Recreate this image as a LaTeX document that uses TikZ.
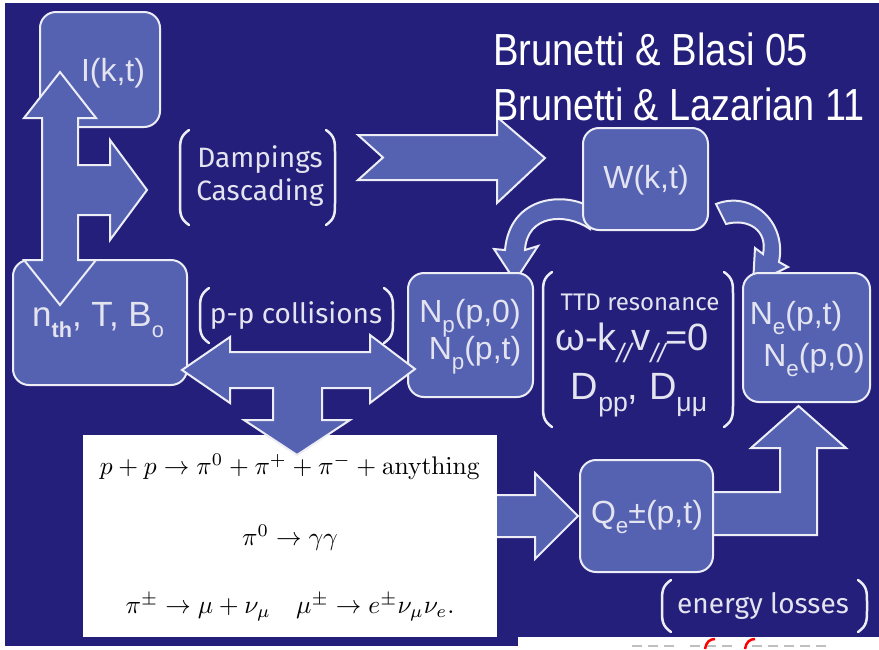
\documentclass[tikz,border=0pt]{standalone}
\usepackage[no-math]{fontspec}
\usepackage{graphicx}
\setmainfont{Liberation Sans}
\newfontfamily\comic{Fira Sans}
\definecolor{bg}{HTML}{241F7A}
\definecolor{boxc}{HTML}{5562B2}
\definecolor{edge}{HTML}{EDEDF5}
\definecolor{txt}{HTML}{E4E4F0}
\newcommand\dn[2][0.7]{\raisebox{-0.3em}{\scalebox{#1}{#2}}}
\newcommand\lpar[3]{\draw[paren] ({#1+9},{#2}) .. controls ({#1},{#2+6}) and ({#1},{#2+12}) .. ({#1},{#2+22}) -- ({#1},{#3-22}) .. controls ({#1},{#3-12}) and ({#1},{#3-6}) .. ({#1+9},{#3});}
\newcommand\rpar[3]{\draw[paren] ({#1-9},{#2}) .. controls ({#1},{#2+6}) and ({#1},{#2+12}) .. ({#1},{#2+22}) -- ({#1},{#3-22}) .. controls ({#1},{#3-12}) and ({#1},{#3-6}) .. ({#1-9},{#3});}
\tikzset{
  box/.style={draw=edge, line width=2pt, fill=boxc, rounded corners=16pt, inner sep=0pt},
  arr/.style={draw=edge, line width=2pt, fill=boxc, line join=miter},
  paren/.style={draw=edge, line width=2.5pt, line cap=round},
  lbl/.style={text=txt, inner sep=0pt, font=\fontsize{32}{36}\selectfont},
  cmc/.style={text=txt, inner sep=0pt, font=\comic\fontsize{28}{32}\selectfont},
}
\begin{document}
\begin{tikzpicture}[x=1pt,y=-1pt]
\useasboundingbox (0,0) rectangle (879,649);
\fill[white] (0,0) rectangle (879,649);
\fill[bg] (5,3) rectangle (879,646);

% curved arrows from W
\filldraw[arr] (590,207) .. controls (565,192) and (510,195) .. (505,250) -- (494,249) -- (515,281) -- (538,246) -- (525,250) .. controls (527,215) and (565,212) .. (590,229) -- cycle;
\filldraw[arr] (716,204) .. controls (752,190) and (787,222) .. (779,262) -- (788,267) -- (753,284) -- (755,248) -- (763,254) .. controls (768,230) and (748,218) .. (726,224) -- cycle;

% chevron arrow
\filldraw[arr] (358,135) -- (497,135) -- (497,117) -- (545,158) -- (497,203) -- (497,180) -- (358,180) -- (383,157.5) -- cycle;

% arrows to Q and from Q
\filldraw[arr] (490,495) -- (535,495) -- (535,473) -- (578,516) -- (535,559) -- (535,537) -- (490,537) -- cycle;
\filldraw[arr] (705,492) -- (780,492) -- (780,448) -- (751,448) -- (798.5,406) -- (846,448) -- (817,448) -- (817,535) -- (705,535) -- cycle;

% boxes
\node[box, minimum width=120pt, minimum height=115pt] (I) at (100,69.5) {};
\node[box, minimum width=174pt, minimum height=125pt] (n) at (100,322.5) {};
\node[box, minimum width=125pt, minimum height=124pt] (Np) at (470.5,335) {};
\node[box, minimum width=125pt, minimum height=102pt] (W) at (645.5,179) {};
\node[box, minimum width=127pt, minimum height=129pt] (Ne) at (806.5,337.5) {};
\node[box, minimum width=133pt, minimum height=112pt] (Q) at (646.5,516) {};
\node[fill=white, minimum width=414pt, minimum height=202pt, inner sep=0pt] (eq) at (290,536) {};

% vertical double arrow with branch
\filldraw[arr] (60,72) -- (96,118) -- (78,118) -- (78,165) -- (110,165) -- (110,140) -- (147,190) -- (110,240) -- (110,215) -- (78,215) -- (78,260) -- (96,260) -- (60,305) -- (24,260) -- (42,260) -- (42,118) -- (24,118) -- cycle;

% horizontal double arrow with down branch
\filldraw[arr] (182,370) -- (230,337) -- (230,352) -- (370,352) -- (370,335) -- (415,369) -- (370,403) -- (370,388) -- (322,388) -- (322,420) -- (350,420) -- (297,455) -- (244,420) -- (273,420) -- (273,388) -- (230,388) -- (230,403) -- cycle;

% brackets
\lpar{180}{130}{225} \rpar{335}{130}{225}
\lpar{200}{288}{343} \rpar{393}{288}{343}
\lpar{543}{272}{427} \rpar{733}{272}{427}
\lpar{662}{580}{632} \rpar{867}{580}{632}

% labels
\node[lbl] (tI) at (113,73) {I(k,t)};
\node[lbl] (tW) at (646,180) {W(k,t)};
\node[lbl, font=\fontsize{35}{40}\selectfont] (tn) at (98,320) {n\dn[0.62]{\bfseries th}, T, B\dn[0.62]{o}};
\node[lbl, font=\fontsize{32}{36}\selectfont] (tNp1) at (470,318) {N\dn{p}(p,0)};
\node[lbl, font=\fontsize{32}{36}\selectfont] (tNp2) at (475,355) {N\dn{p}(p,t)};
\node[lbl, font=\fontsize{32}{36}\selectfont] (tNe1) at (796,318) {N\dn{e}(p,t)};
\node[lbl, font=\fontsize{32}{36}\selectfont] (tNe2) at (814,360) {N\dn{e}(p,0)};
\node[lbl] (tQ) at (647,517) {Q\dn{e}±(p,t)};
\node[lbl, font=\fontsize{38}{42}\selectfont] (tw) at (632,343) {ω-k\dn{\itshape //}v\dn{\itshape //}=0};
\node[lbl, font=\fontsize{38}{42}\selectfont] (tD) at (639,395) {D\dn{pp}, D\dn{μμ}};

\node[cmc] (tD1) at (260,160) {Dampings};
\node[cmc] (tD2) at (260,193) {Cascading};
\node[cmc] (tpp) at (296,316) {p-p collisions};
\node[cmc, font=\comic\fontsize{24}{28}\selectfont] (tTTD) at (640,302) {TTD resonance};
\node[cmc] (tel) at (763,606) {energy losses};

\node[text=white, anchor=base west, inner sep=0pt, font=\fontsize{45}{50}\selectfont] (r1) at (493,65) {\scalebox{0.85}[1]{Brunetti \& Blasi 05}};
\node[text=white, anchor=base west, inner sep=0pt, font=\fontsize{45}{50}\selectfont] (r2) at (493,120) {\scalebox{0.84}[1]{Brunetti \& Lazarian 11}};

% equations
\node[inner sep=0pt] (e1) at (290,467) {\scalebox{2.55}{$p+p\rightarrow \pi^0+\pi^+ +\pi^- +\mathrm{anything}$}};
\node[inner sep=0pt] (e2) at (290,538) {\scalebox{2.55}{$\pi^0\rightarrow\gamma\gamma$}};
\node[inner sep=0pt] (e3) at (290,607) {\scalebox{2.55}{$\pi^\pm\rightarrow\mu+\nu_\mu\quad \mu^\pm\rightarrow e^\pm\nu_\mu\nu_e.$}};

% cut-off strip at bottom right
\fill[white] (518,637) rectangle (879,649);
\foreach \xx in {632,648,664,690,706,722,752,768,784,800,816}
  \draw[gray!50, line width=1.5pt] (\xx,646) -- ++(10,0);
\draw[red, line width=2.5pt] (705,649) .. controls (706,642) and (710,639) .. (715,639);
\draw[red, line width=2.5pt] (745,649) .. controls (746,642) and (750,639) .. (755,639);
\end{tikzpicture}
\end{document}
